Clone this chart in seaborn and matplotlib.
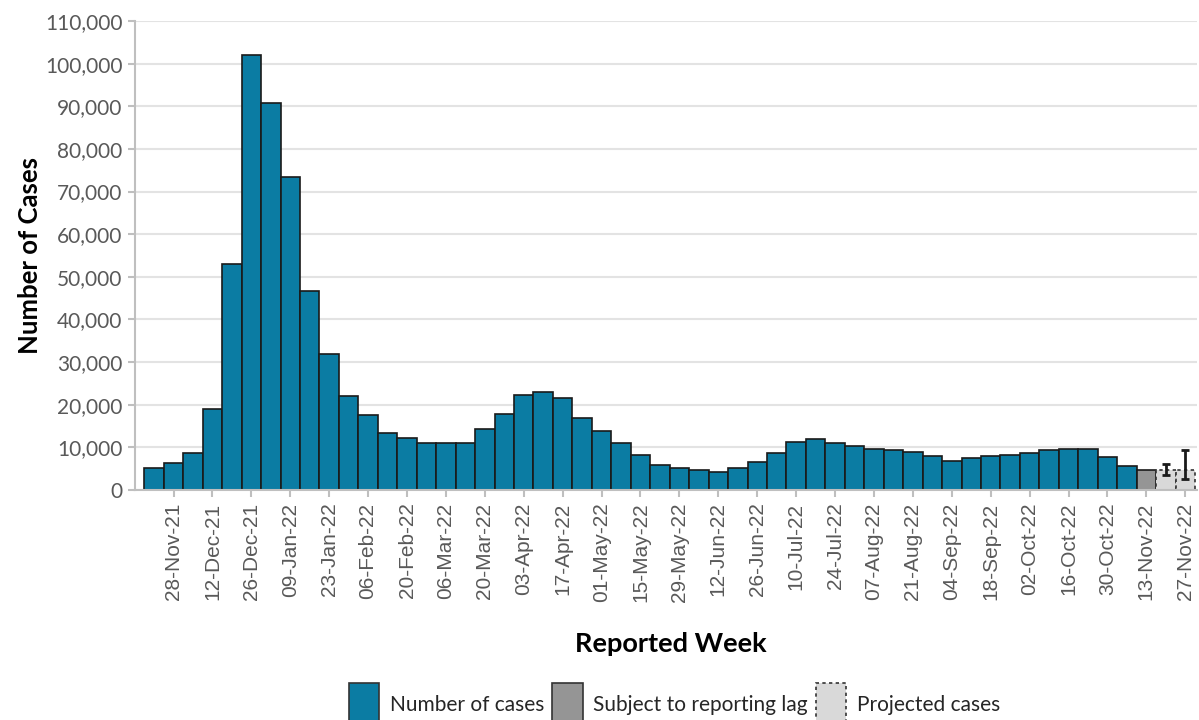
import pandas as pd
import numpy as np
import matplotlib
matplotlib.use("Agg")
import matplotlib.pyplot as plt
from matplotlib.patches import Patch
import seaborn as sns

# weekly reported cases (week starting Sunday)
weeks = pd.date_range("2021-11-21", periods=54, freq="7D").strftime("%d-%b-%y").tolist()

cases = [5200, 6300, 8800, 19000, 52900, 102000, 90800, 73400, 46600, 31900,
         22000, 17600, 13300, 12200, 11100, 11100, 11100, 14200, 17900, 22400,
         22900, 21700, 17000, 13900, 11100, 8200, 5900, 5100, 4700, 4200,
         5200, 6500, 8700, 11300, 12000, 11000, 10300, 9700, 9400, 8900,
         7900, 6900, 7400, 7900, 8100, 8800, 9300, 9600, 9600, 7800,
         5700, 4800, 4700, 4700]

status = ["Number of cases"] * 51 + ["Subject to reporting lag"] + ["Projected cases"] * 2

# projection interval for the last two weeks
proj_low = [3500, 2600]
proj_high = [6100, 9500]

colors = {"Number of cases": "#0B7CA3",
          "Subject to reporting lag": "#959595",
          "Projected cases": "#D9D9D9"}

df = pd.DataFrame({"week": weeks, "cases": cases, "status": status})

sns.set_style("white")
plt.rcParams["font.family"] = ["Lato", "DejaVu Sans"]

fig = plt.figure(figsize=(11.99, 7.2), dpi=100)
ax = fig.add_axes([0.1126, 0.3194, 0.8857, 0.6514])

sns.barplot(data=df, x="week", y="cases", hue="status", order=weeks,
            hue_order=list(colors.keys()), palette=colors, dodge=False,
            saturation=1, width=1.0, edgecolor="#1a1a1a", linewidth=1.2,
            ax=ax, legend=False)

# dashed outline on projected bars
proj_idx = [i for i, s in enumerate(status) if s == "Projected cases"]
for bar in ax.containers[2]:
    bar.set_linestyle((0, (2, 2)))
    bar.set_edgecolor("#333333")

proj_mid = (np.array(proj_low) + np.array(proj_high)) / 2
ax.errorbar(proj_idx, proj_mid,
            yerr=[proj_mid - np.array(proj_low), np.array(proj_high) - proj_mid],
            fmt="none", ecolor="#1a1a1a", elinewidth=2, capsize=3, capthick=2, zorder=5)

ax.set_xlim(-0.98, 53.6)
ax.set_ylim(0, 110000)
ax.set_yticks(range(0, 110001, 10000))
ax.set_yticklabels([f"{v:,}" for v in range(0, 110001, 10000)],
                   fontsize=15, color="#595959")
ax.set_xticks(range(1, 54, 2))
ax.set_xticklabels(weeks[1::2], rotation=90, fontsize=15, color="#595959",
                   family=["Liberation Sans", "DejaVu Sans"])

ax.grid(axis="y", color="#E3E3E3", linewidth=1.5)
ax.set_axisbelow(True)
for side in ["top", "right"]:
    ax.spines[side].set_visible(False)
for side in ["left", "bottom"]:
    ax.spines[side].set_color("#BFBFBF")
    ax.spines[side].set_linewidth(1.5)
ax.tick_params(axis="both", which="both", length=5, width=1.5, color="#BFBFBF",
               bottom=True, left=True, pad=4)

ax.set_ylabel("Number of Cases", fontsize=18.5, fontweight="bold", color="black")
ax.yaxis.set_label_coords(-0.088, 0.5)
ax.set_xlabel("Reported Week", fontsize=19.5, fontweight="bold", color="black")
ax.xaxis.set_label_coords(0.505, -0.303)

handles = [Patch(facecolor=colors["Number of cases"], edgecolor="#333333", linewidth=1.2),
           Patch(facecolor=colors["Subject to reporting lag"], edgecolor="#333333", linewidth=1.2),
           Patch(facecolor=colors["Projected cases"], edgecolor="#333333", linewidth=1.2,
                 linestyle=(0, (2, 2)))]
fig.legend(handles, list(colors.keys()), loc="upper center", bbox_to_anchor=(0.5625, 0.051),
           ncol=3, frameon=False, fontsize=15, handlelength=1.45, handleheight=2.8,
           handletextpad=0.5, columnspacing=0.4, borderpad=0, borderaxespad=0)

fig.savefig("out.png", dpi=100)
